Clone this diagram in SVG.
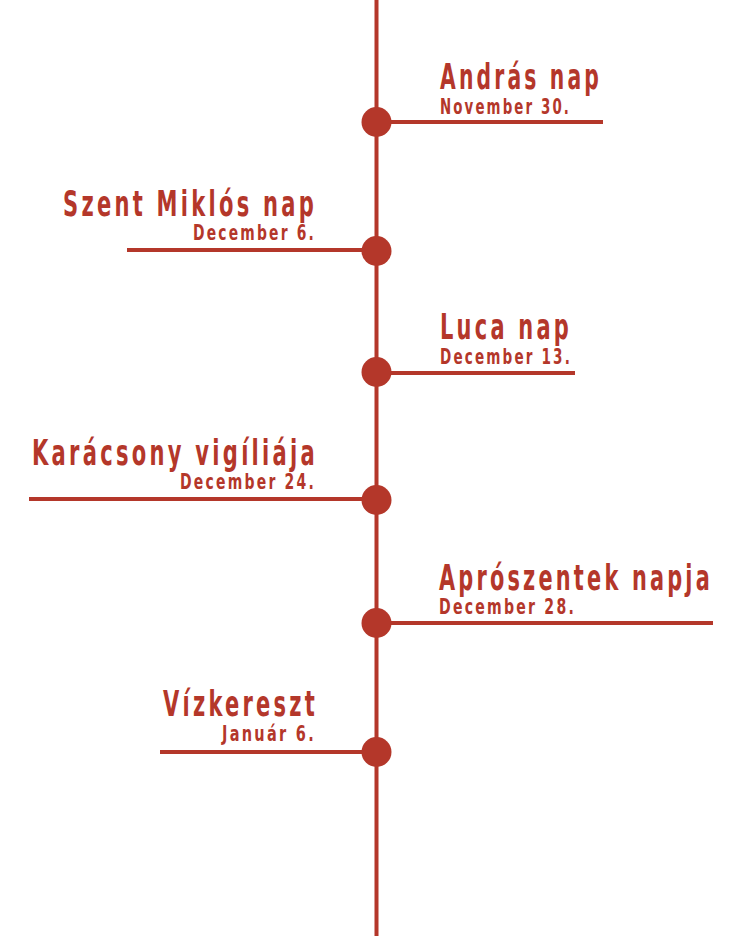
<svg xmlns="http://www.w3.org/2000/svg" width="750" height="936" viewBox="0 0 750 936">
<style>
.ln{stroke:#b4372a;stroke-width:4;fill:none}
.dot{fill:#b4372a}
.t{font-family:"DejaVu Sans Condensed","DejaVu Sans",sans-serif;font-stretch:condensed;font-weight:bold;font-size:36px;letter-spacing:5px;fill:#b4372a}
.d{font-family:"DejaVu Sans Condensed","DejaVu Sans",sans-serif;font-stretch:condensed;font-weight:bold;font-size:21px;letter-spacing:3px;fill:#b4372a}
</style>
<rect width="750" height="936" fill="#ffffff"/>
<g id="connectors">
<line class="ln" x1="376.5" y1="0" x2="376.5" y2="936"/>
<line class="ln" x1="376" y1="122" x2="603" y2="122"/>
<line class="ln" x1="127" y1="250" x2="376" y2="250"/>
<line class="ln" x1="376" y1="373" x2="575" y2="373"/>
<line class="ln" x1="29" y1="499" x2="376" y2="499"/>
<line class="ln" x1="376" y1="623" x2="713" y2="623"/>
<line class="ln" x1="160" y1="752" x2="376" y2="752"/>
</g>
<g id="andras">
<circle class="dot" cx="376.5" cy="122" r="15"/>
<text class="t" x="440" y="89" textLength="162" lengthAdjust="spacingAndGlyphs">András nap</text>
<text class="d" x="440" y="114" textLength="131" lengthAdjust="spacingAndGlyphs">November 30.</text>
</g>
<g id="miklos">
<circle class="dot" cx="376.5" cy="251" r="15"/>
<text class="t" x="63" y="216" textLength="254" lengthAdjust="spacingAndGlyphs">Szent Miklós nap</text>
<text class="d" x="193" y="240" textLength="123" lengthAdjust="spacingAndGlyphs">December 6.</text>
</g>
<g id="luca">
<circle class="dot" cx="376.5" cy="372" r="15"/>
<text class="t" x="440" y="339" textLength="132" lengthAdjust="spacingAndGlyphs">Luca nap</text>
<text class="d" x="440" y="364" textLength="132" lengthAdjust="spacingAndGlyphs">December 13.</text>
</g>
<g id="karacsony">
<circle class="dot" cx="376.5" cy="500" r="15"/>
<text class="t" x="32" y="465" textLength="286" lengthAdjust="spacingAndGlyphs">Karácsony vigíliája</text>
<text class="d" x="180" y="489" textLength="136" lengthAdjust="spacingAndGlyphs">December 24.</text>
</g>
<g id="aproszentek">
<circle class="dot" cx="376.5" cy="623" r="15"/>
<text class="t" x="439" y="590" textLength="274" lengthAdjust="spacingAndGlyphs">Aprószentek napja</text>
<text class="d" x="439" y="614" textLength="137" lengthAdjust="spacingAndGlyphs">December 28.</text>
</g>
<g id="vizkereszt">
<circle class="dot" cx="376.5" cy="752" r="15"/>
<text class="t" x="163" y="716" textLength="155" lengthAdjust="spacingAndGlyphs">Vízkereszt</text>
<text class="d" x="222" y="741" textLength="94" lengthAdjust="spacingAndGlyphs">Január 6.</text>
</g>
</svg>
